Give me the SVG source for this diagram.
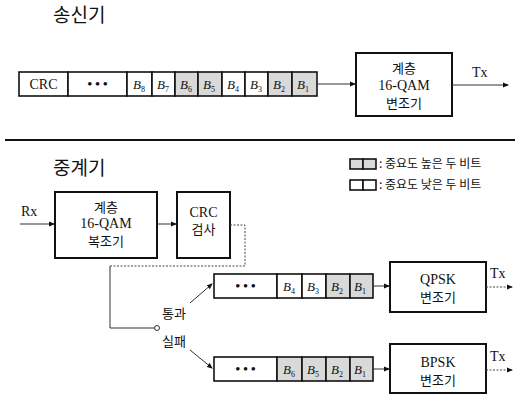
<svg xmlns="http://www.w3.org/2000/svg" width="515" height="398" viewBox="0 0 515 398">
<style>
.kr{font-family:"Noto Sans CJK KR","Noto Sans",sans-serif;fill:#111}
.t{font-family:"Liberation Serif",serif;fill:#111}
.b{font-family:"Liberation Serif",serif;font-style:italic;font-size:13px;fill:#111}
.box{fill:#fff;stroke:#111;stroke-width:2}
.cell{fill:#fff;stroke:#111;stroke-width:1.6}
.sh{fill:#d9d9d9;stroke:#111;stroke-width:1.6}
.ln{fill:none;stroke:#333;stroke-width:1}
.dl{fill:none;stroke:#444;stroke-width:1;stroke-dasharray:2 1.5}
</style>
<defs>
<marker id="ah" markerWidth="6" markerHeight="6" refX="5" refY="3" orient="auto" markerUnits="userSpaceOnUse">
<path d="M0,0.5 L6,3 L0,5.5 Z" fill="#111"/>
</marker>
</defs>

<text class="kr" x="53" y="22" font-size="19">송신기</text>
<text class="kr" x="53" y="175" font-size="19">중계기</text>
<line x1="5" y1="140" x2="515" y2="140" stroke="#111" stroke-width="2"/>

<g id="tx-frame">
<rect class="cell" x="19" y="72" width="49" height="24"/>
<text class="t" x="43.5" y="89" font-size="14" text-anchor="middle">CRC</text>
<rect class="cell" x="68" y="72" width="59" height="24"/>
<text class="t" x="97.5" y="88" font-size="13" font-weight="bold" text-anchor="middle">•  •  •</text>
<rect class="cell" x="127" y="72" width="25" height="24"/>
<rect class="cell" x="152" y="72" width="23" height="24"/>
<rect class="sh" x="175" y="72" width="23" height="24"/>
<rect class="sh" x="198" y="72" width="24" height="24"/>
<rect class="cell" x="222" y="72" width="23" height="24"/>
<rect class="cell" x="245" y="72" width="23" height="24"/>
<rect class="sh" x="268" y="72" width="24" height="24"/>
<rect class="sh" x="292" y="72" width="25" height="24"/>
<text class="b" x="133" y="89">B<tspan font-size="8" dy="3" font-style="normal">8</tspan></text>
<text class="b" x="157" y="89">B<tspan font-size="8" dy="3" font-style="normal">7</tspan></text>
<text class="b" x="180" y="89">B<tspan font-size="8" dy="3" font-style="normal">6</tspan></text>
<text class="b" x="203" y="89">B<tspan font-size="8" dy="3" font-style="normal">5</tspan></text>
<text class="b" x="227" y="89">B<tspan font-size="8" dy="3" font-style="normal">4</tspan></text>
<text class="b" x="250" y="89">B<tspan font-size="8" dy="3" font-style="normal">3</tspan></text>
<text class="b" x="273" y="89">B<tspan font-size="8" dy="3" font-style="normal">2</tspan></text>
<text class="b" x="297" y="89">B<tspan font-size="8" dy="3" font-style="normal">1</tspan></text>
</g>

<g id="tx-mod">
<rect class="box" x="356" y="53" width="96" height="63"/>
<text class="kr" x="404" y="73" font-size="13" text-anchor="middle">계층</text>
<text class="t" x="404" y="90" font-size="14" text-anchor="middle">16-QAM</text>
<text class="kr" x="404" y="108" font-size="13" text-anchor="middle">변조기</text>
</g>

<g id="legend">
<rect class="sh" x="350" y="159" width="13" height="10"/>
<rect class="sh" x="363" y="159" width="13" height="10"/>
<text class="kr" x="379" y="168" font-size="12">: 중요도 높은 두 비트</text>
<rect class="cell" x="350" y="180" width="13" height="10"/>
<rect class="cell" x="363" y="180" width="13" height="10"/>
<text class="kr" x="379" y="189" font-size="12">: 중요도 낮은 두 비트</text>
</g>

<g id="demod">
<rect class="box" x="55" y="192" width="102" height="66"/>
<text class="kr" x="106" y="212" font-size="13" text-anchor="middle">계층</text>
<text class="t" x="106" y="228" font-size="14" text-anchor="middle">16-QAM</text>
<text class="kr" x="106" y="246" font-size="13" text-anchor="middle">복조기</text>
</g>

<g id="crc">
<rect class="box" x="177" y="192" width="53" height="66"/>
<text class="t" x="203.5" y="217" font-size="14" text-anchor="middle">CRC</text>
<text class="kr" x="203.5" y="234" font-size="13" text-anchor="middle">검사</text>
</g>

<g id="q-frame">
<rect class="cell" x="214" y="274" width="63" height="24"/>
<text class="t" x="245.5" y="290" font-size="13" font-weight="bold" text-anchor="middle">•  •  •</text>
<rect class="cell" x="277" y="274" width="25" height="24"/>
<rect class="cell" x="302" y="274" width="24" height="24"/>
<rect class="sh" x="326" y="274" width="24" height="24"/>
<rect class="sh" x="350" y="274" width="23" height="24"/>
<text class="b" x="283" y="291">B<tspan font-size="8" dy="3" font-style="normal">4</tspan></text>
<text class="b" x="307" y="291">B<tspan font-size="8" dy="3" font-style="normal">3</tspan></text>
<text class="b" x="331" y="291">B<tspan font-size="8" dy="3" font-style="normal">2</tspan></text>
<text class="b" x="354" y="291">B<tspan font-size="8" dy="3" font-style="normal">1</tspan></text>
</g>

<g id="qpsk">
<rect class="box" x="390" y="262" width="96" height="50"/>
<text class="t" x="438" y="284" font-size="14" text-anchor="middle">QPSK</text>
<text class="kr" x="438" y="302" font-size="13" text-anchor="middle">변조기</text>
</g>

<g id="b-frame">
<rect class="cell" x="214" y="357" width="63" height="24"/>
<text class="t" x="245.5" y="373" font-size="13" font-weight="bold" text-anchor="middle">•  •  •</text>
<rect class="sh" x="277" y="357" width="25" height="24"/>
<rect class="sh" x="302" y="357" width="24" height="24"/>
<rect class="sh" x="326" y="357" width="24" height="24"/>
<rect class="sh" x="350" y="357" width="23" height="24"/>
<text class="b" x="283" y="374">B<tspan font-size="8" dy="3" font-style="normal">6</tspan></text>
<text class="b" x="307" y="374">B<tspan font-size="8" dy="3" font-style="normal">5</tspan></text>
<text class="b" x="331" y="374">B<tspan font-size="8" dy="3" font-style="normal">2</tspan></text>
<text class="b" x="354" y="374">B<tspan font-size="8" dy="3" font-style="normal">1</tspan></text>
</g>

<g id="bpsk">
<rect class="box" x="390" y="344" width="96" height="49"/>
<text class="t" x="438" y="367" font-size="14" text-anchor="middle">BPSK</text>
<text class="kr" x="438" y="385" font-size="13" text-anchor="middle">변조기</text>
</g>

<g id="switch">
<circle cx="157" cy="328" r="2.5" fill="#fff" stroke="#333" stroke-width="1"/>
<text class="kr" x="162" y="318" font-size="13">통과</text>
<text class="kr" x="162" y="346" font-size="13">실패</text>
</g>

<g id="connectors">
<line class="ln" x1="317" y1="84" x2="355" y2="84" marker-end="url(#ah)"/>
<line class="ln" x1="452" y1="85" x2="508" y2="85" marker-end="url(#ah)"/>
<text class="t" x="472" y="77" font-size="14">Tx</text>
<line class="ln" x1="20" y1="224" x2="54" y2="224" marker-end="url(#ah)"/>
<text class="t" x="21" y="216" font-size="14">Rx</text>
<line class="ln" x1="157" y1="224" x2="176" y2="224" marker-end="url(#ah)"/>
<polyline class="dl" points="230,225 245,225 245,266 110,266"/>
<polyline class="ln" points="110,266 110,328 154.5,328"/>
<line class="ln" x1="190" y1="303" x2="212" y2="284" marker-end="url(#ah)"/>
<line class="ln" x1="190" y1="350" x2="212" y2="368" marker-end="url(#ah)"/>
<line class="ln" x1="373" y1="286" x2="389" y2="286" marker-end="url(#ah)"/>
<line class="dl" x1="486" y1="287" x2="512" y2="287" marker-end="url(#ah)"/>
<text class="t" x="490" y="278" font-size="14">Tx</text>
<line class="ln" x1="373" y1="369" x2="389" y2="369" marker-end="url(#ah)"/>
<line class="dl" x1="486" y1="370" x2="512" y2="370" marker-end="url(#ah)"/>
<text class="t" x="490" y="361" font-size="14">Tx</text>
</g>
</svg>
